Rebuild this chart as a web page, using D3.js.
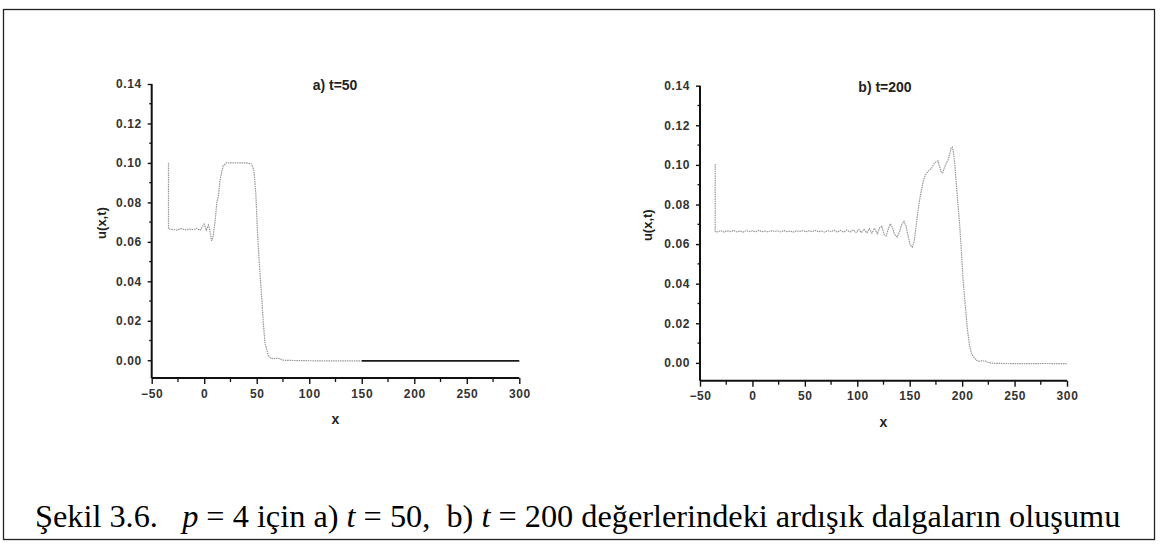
<!DOCTYPE html>
<html><head><meta charset="utf-8">
<script src="https://cdn.jsdelivr.net/npm/d3@7"></script>
</head>
<body style="margin:0;background:#fff">
<svg id="c" width="1162" height="549" style="display:block"></svg>
<script>
// ---- data ----
const xTicks = [-50, 0, 50, 100, 150, 200, 250, 300];
const yTicks = [0.00, 0.02, 0.04, 0.06, 0.08, 0.10, 0.12, 0.14];
const titles = ["a) t=50", "b) t=200"];
const xLabel = "x";
const yLabel = "u(x,t)";

const leftX = [-34, -34, -30, -26, -22, -18, -14, -10, -7, -4, -2, 0, 2, 4, 5.5, 7, 8.5, 10, 11, 12, 13.5, 15, 16.5, 18, 21, 30, 40, 45, 47.4, 49.3, 50.6, 52.5, 54.7, 56.3, 57.9, 61, 63, 65.8, 68, 72, 75.3, 90, 110, 130, 150];
const leftY = [0.100, 0.0665, 0.0663, 0.0660, 0.0667, 0.0661, 0.0664, 0.0662, 0.0668, 0.0658, 0.0675, 0.0690, 0.0660, 0.0685, 0.0655, 0.0605, 0.0630, 0.0690, 0.0740, 0.0800, 0.0830, 0.0910, 0.0950, 0.0985, 0.1000, 0.1000, 0.1000, 0.0995, 0.0960, 0.0830, 0.0660, 0.0490, 0.0320, 0.0186, 0.0085, 0.0025, 0.0012, 0.0008, 0.0010, 0.0008, 0.0000, -0.0002, -0.0003, -0.0003, -0.0003];
const leftDarkX = [150, 300];
const leftDarkY = [-0.0003, -0.0003];

const rightX = [-35.5, -35.5, -33, -30, -27, -24, -21, -18, -15, -12, -9, -6, -3, 0, 3, 6, 9, 12, 15, 18, 21, 24, 27, 30, 33, 36, 39, 42, 45, 48, 51, 54, 57, 60, 63, 66, 69, 72, 75, 78, 81, 84, 87, 90, 93, 96, 99, 101.5, 104, 106.5, 109, 111.5, 114, 116.5, 119, 121.5, 123.5, 125.5, 127.5, 129.5, 131.5, 133.5, 135.5, 138, 140.5, 142.5, 144.5, 146.5, 148.5, 150.5, 152.5, 154, 155.5, 157, 158.5, 160, 161.5, 163, 165, 167, 169, 171, 173, 175, 177, 178.5, 180, 181.5, 183, 185, 186.5, 188, 189.5, 190.5, 191.5, 193, 194.5, 196, 197.5, 199.5, 201, 203, 205, 207, 209, 211, 213, 216, 219, 222, 225, 230, 240, 260, 280, 300];
const rightY = [0.1005, 0.0663, 0.0662, 0.0668, 0.0661, 0.0667, 0.0663, 0.0669, 0.0662, 0.0666, 0.0661, 0.0668, 0.0663, 0.0667, 0.0662, 0.0669, 0.0663, 0.0666, 0.0661, 0.0668, 0.0664, 0.0667, 0.0662, 0.0668, 0.0663, 0.0666, 0.0661, 0.0667, 0.0664, 0.0668, 0.0662, 0.0667, 0.0663, 0.0669, 0.0662, 0.0666, 0.0660, 0.0668, 0.0663, 0.0670, 0.0661, 0.0669, 0.0660, 0.0671, 0.0661, 0.0672, 0.0659, 0.0674, 0.0658, 0.0676, 0.0656, 0.0678, 0.0655, 0.0680, 0.0652, 0.0684, 0.0690, 0.0648, 0.0642, 0.0675, 0.0703, 0.0685, 0.0650, 0.0635, 0.0665, 0.0700, 0.0715, 0.0690, 0.0640, 0.0595, 0.0585, 0.0610, 0.0665, 0.0730, 0.0790, 0.0840, 0.0880, 0.0920, 0.0950, 0.0965, 0.0975, 0.0985, 0.1005, 0.1015, 0.1020, 0.0990, 0.0965, 0.0960, 0.0985, 0.1010, 0.1025, 0.1050, 0.1085, 0.1090, 0.1070, 0.1005, 0.0900, 0.0800, 0.0710, 0.0545, 0.0410, 0.0290, 0.0170, 0.0090, 0.0045, 0.0030, 0.0015, 0.0008, 0.0011, 0.0009, 0.0002, -0.0002, -0.0003, -0.0004, -0.0003, -0.0004];

const captionParts = [
  {t: "Şekil 3.6.\u00A0\u00A0\u00A0", i: false},
  {t: "p", i: true},
  {t: " = 4 için a) ", i: false},
  {t: "t", i: true},
  {t: " = 50,\u00A0\u00A0b) ", i: false},
  {t: "t", i: true},
  {t: " = 200 değerlerindeki ardışık dalgaların oluşumu", i: false}
];

// ---- drawing ----
const svg = d3.select("#c");
svg.append("rect").attr("x", 3.5).attr("y", 9.5).attr("width", 1151).attr("height", 530)
  .attr("fill", "none").attr("stroke", "#222").attr("stroke-width", 1.3);

const panels = [
  {x0: 151.7, x1: 519.3, yTop: 84, yBot: 378, xs: leftX, ys: leftY, dark: true, title: titles[0], tx: 335, ty: 90, lab: 101},
  {x0: 700, x1: 1067, yTop: 85.7, yBot: 380.7, xs: rightX, ys: rightY, dark: false, title: titles[1], tx: 885, ty: 92, lab: 647}
];

const SANS = "Liberation Sans";
const SERIF = "Liberation Serif";

panels.forEach(p => {
  const x = d3.scaleLinear().domain([-50, 300]).range([p.x0, p.x1]);
  const y = d3.scaleLinear().domain([-0.009, 0.14]).range([p.yBot, p.yTop]);
  const g = svg.append("g");

  const xa = g.append("g").attr("transform", `translate(0,${p.yBot})`)
    .call(d3.axisBottom(x).tickValues(xTicks).tickFormat(d3.format("d")).tickSize(6).tickPadding(5));
  xa.append("g").selectAll("line").data(d3.range(-25, 300, 50)).join("line")
    .attr("x1", d => x(d)).attr("x2", d => x(d)).attr("y1", 0).attr("y2", 4)
    .attr("stroke", "#111").attr("stroke-width", 1.3);
  const ya = g.append("g").attr("transform", `translate(${p.x0},0)`)
    .call(d3.axisLeft(y).tickValues(yTicks).tickFormat(d3.format(".2f")).tickSize(4).tickPadding(6));
  ya.append("g").selectAll("line").data(d3.range(0.01, 0.14, 0.02)).join("line")
    .attr("x1", 0).attr("x2", -2.5).attr("y1", d => y(d)).attr("y2", d => y(d))
    .attr("stroke", "#111").attr("stroke-width", 1.3);

  [xa, ya].forEach(a => {
    a.attr("font-family", SANS).attr("font-size", 12);
    a.select(".domain").attr("stroke", "#111").attr("stroke-width", 2);
    a.selectAll(".tick line").attr("stroke", "#111").attr("stroke-width", 1.4);
    a.selectAll(".tick text").attr("font-family", SANS).attr("font-size", 12)
      .attr("font-weight", "bold").attr("fill", "#333").attr("letter-spacing", 0.6);
  });
  xa.select(".domain").attr("d", `M${p.x0},0H${p.x1}`);
  ya.select(".domain").attr("d", `M0,${p.yBot}V${p.yTop}`);

  const pts = p.xs.map((v, i) => [v, p.ys[i]]);
  const line = d3.line().x(d => x(d[0])).y(d => y(d[1]));
  g.append("path").attr("d", line(pts)).attr("fill", "none")
    .attr("stroke", "#999").attr("stroke-width", 1.2).attr("stroke-dasharray", "1.5,0.8");
  if (p.dark) {
    const dp = leftDarkX.map((v, i) => [v, leftDarkY[i]]);
    g.append("path").attr("d", line(dp)).attr("fill", "none")
      .attr("stroke", "#1a1a1a").attr("stroke-width", 1.8);
  }

  g.append("text").attr("x", p.tx).attr("y", p.ty).attr("text-anchor", "middle")
    .attr("font-family", SANS).attr("font-size", 14).attr("font-weight", "bold")
    .attr("fill", "#222").text(p.title);
  g.append("text").attr("x", (p.x0 + p.x1) / 2).attr("y", p.yBot + 46).attr("text-anchor", "middle")
    .attr("font-family", SANS).attr("font-size", 14).attr("font-weight", "bold")
    .attr("fill", "#222").text(xLabel);
  g.append("text").attr("transform", `translate(${p.lab},${(p.yTop + p.yBot) / 2 - 8}) rotate(-90)`)
    .attr("text-anchor", "middle").attr("dy", "0.35em")
    .attr("font-family", SANS).attr("font-size", 13).attr("font-weight", "bold")
    .attr("fill", "#222").text(yLabel);
});

// caption
const cap = svg.append("text").attr("x", 35).attr("y", 527)
  .attr("font-family", SERIF).attr("font-size", 32.3).attr("fill", "#000");
cap.selectAll("tspan").data(captionParts).join("tspan")
  .attr("font-style", d => d.i ? "italic" : null).text(d => d.t);
</script>
</body></html>
